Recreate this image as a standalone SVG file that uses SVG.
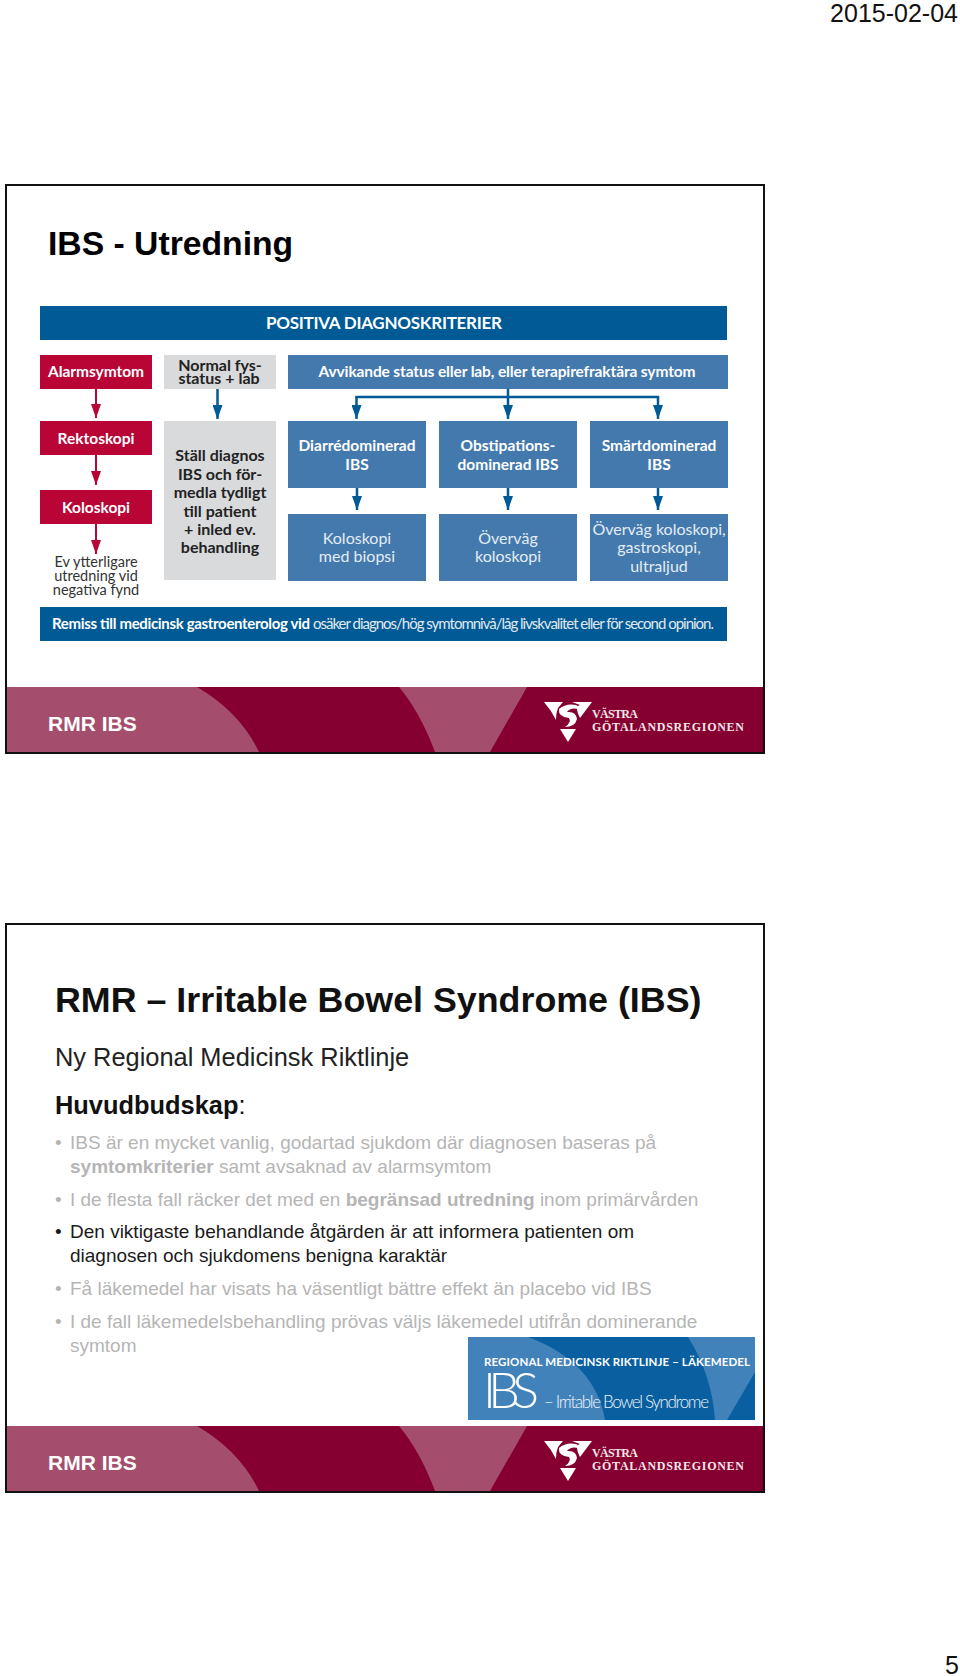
<svg xmlns="http://www.w3.org/2000/svg" width="960" height="1676" viewBox="0 0 960 1676">
<defs>
<marker id="ab" markerWidth="14" markerHeight="10" refX="14" refY="5" orient="auto" viewBox="0 0 14 10" markerUnits="userSpaceOnUse"><path d="M0 0L14 5L0 10Z" fill="#005a96"/></marker>
<marker id="ar" markerWidth="14" markerHeight="10" refX="14" refY="5" orient="auto" viewBox="0 0 14 10" markerUnits="userSpaceOnUse"><path d="M0 0L14 5L0 10Z" fill="#b90536"/></marker>
<g id="footer">
<rect x="7" y="687" width="756" height="65" fill="#850030"/>
<path d="M7 687H197Q240 712 259 752H7Z" fill="#a54d6c"/>
<path d="M399 687H527L490 752H435Q420 712 399 687Z" fill="#a54d6c"/>
<g fill="#fff">
<path d="M544 702H563L558 708Q556 713 556 720Q551 710 544 702Z"/>
<path d="M592 702H572L580 705Q574 706 580 718Z"/>
<path d="M559 709Q566 703 576 705Q580 707 582 710Q571 706 567 712Q576 711 577 719Q575 727 565 727Q572 722 569 718Q558 717 559 709Z"/>
<path d="M560 729H576L568 742Z"/>
</g>
<text class="lg" x="592" y="718" textLength="46">VÄSTRA</text>
<text class="lg" x="592" y="731" textLength="152">GÖTALANDSREGIONEN</text>
<text class="rmr" x="48" y="731">RMR IBS</text>
</g>
</defs>
<style>
text{font-family:"Liberation Sans",Arial,sans-serif}
.h,.n,.d,.e,.r{font-family:Lato,"Open Sans",sans-serif}
.h{text-anchor:middle;font-weight:700;fill:#fff;font-size:15.500px}
.n{text-anchor:middle;fill:#e4ecf4;font-size:16px}
.d{text-anchor:middle;font-weight:700;fill:#222;font-size:16px}
.e{text-anchor:middle;fill:#333;font-size:14.500px}
.lg{font-family:"Liberation Serif",serif;font-weight:700;fill:#f3e6ea;font-size:12px}
.rmr{font-weight:700;font-size:21px;fill:#fff}
.b{font-size:19px;fill:#b5b5b5}
.bk{fill:#1a1a1a}
.blue{fill:#4379ad}.dk{fill:#005a96}.red{fill:#b90536}.gr{fill:#d9dadc}
.cr{stroke:#b90536;stroke-width:2;marker-end:url(#ar);fill:none}
.cb{stroke:#005a96;stroke-width:2.500;marker-end:url(#ab);fill:none}
</style>
<rect width="960" height="1676" fill="#fff"/>
<text id="date" x="958" y="22" text-anchor="end" font-size="25" fill="#111">2015-02-04</text>
<text id="page" x="959" y="1674" text-anchor="end" font-size="25" fill="#111">5</text>

<g id="slide1">
<rect x="6" y="185" width="758" height="568" fill="#fff" stroke="#111" stroke-width="2"/>
<text x="48" y="255" font-size="33.700" font-weight="700" fill="#000">IBS - Utredning</text>
<use href="#footer"/>
<g id="n-head"><rect class="dk" x="40" y="306" width="687" height="34"/><text class="h" x="384" y="329" style="font-size:17px" textLength="236">POSITIVA DIAGNOSKRITERIER</text></g>
<g id="n-alarm"><rect class="red" x="40" y="355" width="112" height="34"/><text class="h" x="96" y="377" textLength="96">Alarmsymtom</text></g>
<g id="n-normal"><rect class="gr" x="164" y="355" width="112" height="34"/><text class="d"><tspan x="220" y="371">Normal fys-</tspan><tspan x="219" y="384">status + lab</tspan></text></g>
<g id="n-avv"><rect class="blue" x="288" y="355" width="440" height="34"/><text class="h" x="507" y="377" textLength="377">Avvikande status eller lab, eller terapirefraktära symtom</text></g>
<g id="n-rekt"><rect class="red" x="40" y="421" width="112" height="34"/><text class="h" x="96" y="444">Rektoskopi</text></g>
<g id="n-kolo"><rect class="red" x="40" y="490" width="112" height="34"/><text class="h" x="96" y="513">Koloskopi</text></g>
<g id="n-ev"><text class="e"><tspan x="96" y="567">Ev ytterligare</tspan><tspan x="96" y="581">utredning vid</tspan><tspan x="96" y="595">negativa fynd</tspan></text></g>
<g id="n-stall"><rect class="gr" x="164" y="421" width="112" height="159"/>
<text class="d" x="220" y="461">Ställ diagnos</text><text class="d" x="220" y="480">IBS och för-</text><text class="d" x="220" y="498">medla tydligt</text><text class="d" x="220" y="517">till patient</text><text class="d" x="220" y="535">+ inled ev.</text><text class="d" x="220" y="553">behandling</text></g>
<g id="n-diarre"><rect class="blue" x="288" y="421" width="138" height="67"/><text class="h" x="357" y="451">Diarrédominerad</text><text class="h" x="357" y="470">IBS</text></g>
<g id="n-obst"><rect class="blue" x="439" y="421" width="138" height="67"/><text class="h" x="508" y="451">Obstipations-</text><text class="h" x="508" y="470">dominerad IBS</text></g>
<g id="n-smart"><rect class="blue" x="590" y="421" width="138" height="67"/><text class="h" x="659" y="451">Smärtdominerad</text><text class="h" x="659" y="470">IBS</text></g>
<g id="n-kb"><rect class="blue" x="288" y="514" width="138" height="67"/><text class="n" x="357" y="544">Koloskopi</text><text class="n" x="357" y="562">med biopsi</text></g>
<g id="n-ov"><rect class="blue" x="439" y="514" width="138" height="67"/><text class="n" x="508" y="544">Överväg</text><text class="n" x="508" y="562">koloskopi</text></g>
<g id="n-ovk"><rect class="blue" x="590" y="514" width="138" height="67"/><text class="n" x="659" y="535">Överväg koloskopi,</text><text class="n" x="659" y="553">gastroskopi,</text><text class="n" x="659" y="572">ultraljud</text></g>
<g id="n-remiss"><rect class="dk" x="40" y="607" width="687" height="34"/><text class="r" x="52" y="629" font-size="15" font-weight="700" fill="#fff" textLength="258">Remiss till medicinsk gastroenterolog vid</text><text class="r" x="313" y="629" font-size="15" fill="#e0e8f0" textLength="401">osäker diagnos/hög symtomnivå/låg livskvalitet eller för second opinion.</text></g>
<g id="connectors">
<path class="cr" d="M96 389V418"/><path class="cr" d="M96 455V485"/><path class="cr" d="M96 524V554"/>
<path class="cb" d="M217.500 389V419"/><path class="cb" d="M356.500 397V419"/><path class="cb" d="M508 389V419"/><path class="cb" d="M658 397V419"/>
<path d="M355.300 397H659.200" fill="none" stroke="#005a96" stroke-width="2.500"/>
<path class="cb" d="M357 488V510"/><path class="cb" d="M508 488V510"/><path class="cb" d="M658 488V510"/>
</g>
</g>

<g id="slide2">
<rect x="6" y="924" width="758" height="568" fill="#fff" stroke="#111" stroke-width="2"/>
<use href="#footer" y="739"/>
<text x="55" y="1012" font-size="35.800" font-weight="700" fill="#111">RMR – Irritable Bowel Syndrome (IBS)</text>
<text x="55" y="1066" font-size="25.400" fill="#222">Ny Regional Medicinsk Riktlinje</text>
<text x="55" y="1114" font-size="25.400" fill="#111"><tspan font-weight="700">Huvudbudskap</tspan>:</text>
<g>
<text class="b" x="55" y="1149">•</text><text class="b" x="70" y="1149">IBS är en mycket vanlig, godartad sjukdom där diagnosen baseras på</text>
<text class="b" x="70" y="1173"><tspan font-weight="700">symtomkriterier</tspan> samt avsaknad av alarmsymtom</text>
<text class="b" x="55" y="1206">•</text><text class="b" x="70" y="1206">I de flesta fall räcker det med en <tspan font-weight="700">begränsad utredning</tspan> inom primärvården</text>
<text class="b bk" x="55" y="1238">•</text><text class="b bk" x="70" y="1238">Den viktigaste behandlande åtgärden är att informera patienten om</text>
<text class="b bk" x="70" y="1262">diagnosen och sjukdomens benigna karaktär</text>
<text class="b" x="55" y="1295">•</text><text class="b" x="70" y="1295">Få läkemedel har visats ha väsentligt bättre effekt än placebo vid IBS</text>
<text class="b" x="55" y="1328">•</text><text class="b" x="70" y="1328">I de fall läkemedelsbehandling prövas väljs läkemedel utifrån dominerande</text>
<text class="b" x="70" y="1352">symtom</text>
</g>
<g id="badge">
<rect x="468" y="1337" width="287" height="83" fill="#4282ba"/>
<path d="M528 1337H688Q712 1375 715 1420H605Q595 1362 528 1337Z" fill="#0a5fa0"/>
<path d="M755 1372V1420H727Z" fill="#0a5fa0"/>
<text class="r" x="484" y="1366" font-size="11.500" font-weight="700" fill="#fff" textLength="266">REGIONAL MEDICINSK RIKTLINJE – LÄKEMEDEL</text>
<text class="r" x="483" y="1408" font-size="50" font-weight="300" fill="#fff" textLength="56">IBS</text>
<text class="r" x="544" y="1408" font-size="17" font-weight="300" fill="#eef4fa" textLength="165">– Irritable Bowel Syndrome</text>
</g>
</g>
</svg>
